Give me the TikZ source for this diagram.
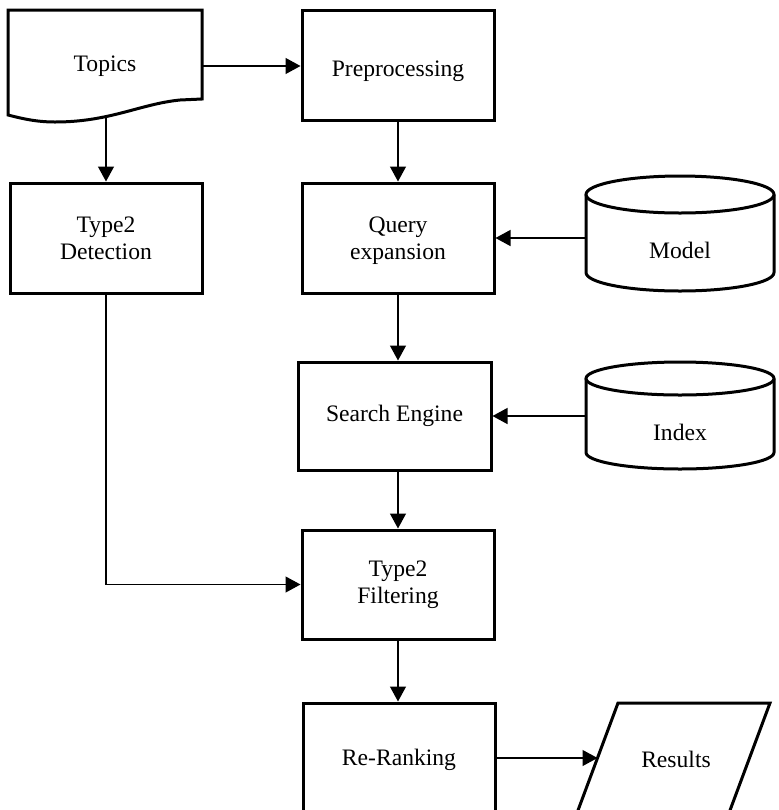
\documentclass[tikz,border=0pt]{standalone}
\usepackage{fontspec}
\setmainfont{Liberation Serif}
\usetikzlibrary{arrows.meta,calc}
\begin{document}
\begin{tikzpicture}[x=0.5pt,y=-0.5pt,
  box/.style={draw, line width=1.5pt, minimum width=96pt, minimum height=55pt, inner sep=0pt, align=center, font=\fontsize{11.8}{13.5}\selectfont},
  txt/.style={inner sep=0pt, align=center, font=\fontsize{11.8}{13.5}\selectfont},
  shp/.style={line width=1.5pt, line join=miter},
  arr/.style={line width=0.65pt, -{Triangle[length=7.5pt,width=8pt]}}]
\path[use as bounding box] (0,0) rectangle (779,810);
\clip (0,0) rectangle (779,810);

% Topics (document shape)
\draw[shp] (8,10) -- (202,10) -- (202,99) -- (180,100)
  .. controls (140,104) and (110,122) .. (55,122)
  .. controls (35,122) and (20,118) .. (8,115) -- cycle;
\node[txt, minimum width=97pt, minimum height=56pt] (topics) at (105,66) {Topics};
\coordinate (topicsS) at (106,116.5);

% process boxes
\node[box] (prep) at (398,65) {};
\node[txt] (preptxt) at (398,71) {Preprocessing};
\node[box] (qe) at (398,238) {};
\node[txt] (qetxt) at (398,241) {Query\\expansion};
\node[box] (det) at (106,238) {Type2\\Detection};
\node[box, minimum width=96.5pt, minimum height=54pt] (search) at (394.5,416) {Search Engine};
\node[box, minimum height=54.5pt] (filt) at (398,584.5) {Type2\\Filtering};
\node[box] (rerank) at (399,758) {};
\node[txt] (rrtxt) at (399,760) {Re-Ranking};

% Model cylinder
\draw[shp] (680,194.5) ellipse [x radius=94, y radius=18.5];
\draw[shp] (586,194.5) -- (586,272.5) arc[start angle=180, end angle=0, x radius=94, y radius=18.5] -- (774,194.5);
\node[txt] (model) at (680,250) {Model};
\coordinate (modelW) at (586,238);

% Index cylinder
\draw[shp] (680,378.5) ellipse [x radius=94, y radius=16.5];
\draw[shp] (586,378.5) -- (586,452.5) arc[start angle=180, end angle=0, x radius=94, y radius=16.5] -- (774,378.5);
\node[txt] (index) at (680,432) {Index};
\coordinate (indexW) at (586,416);

% Results parallelogram
\draw[shp] (618,703) -- (770,703) -- (729,813) -- (577,813) -- cycle;
\node[txt] (res) at (676,759) {Results};
\coordinate (resW) at (597.5,758);

% connectors
\draw[arr] (topics.east) -- (topics.east -| prep.west);
\draw[arr] (topicsS) -- (det.north);
\draw[arr] (prep.south) -- (qe.north);
\draw[arr] (modelW) -- (qe.east);
\draw[arr] (qe.south) -- (qe.south |- search.north);
\draw[arr] (indexW) -- (search.east);
\draw[arr] (filt.north |- search.south) -- (filt.north);
\draw[arr] (det.south) |- (filt.west);
\draw[arr] (filt.south) -- (filt.south |- rerank.north);
\draw[arr] (rerank.east) -- (resW);
\end{tikzpicture}
\end{document}
